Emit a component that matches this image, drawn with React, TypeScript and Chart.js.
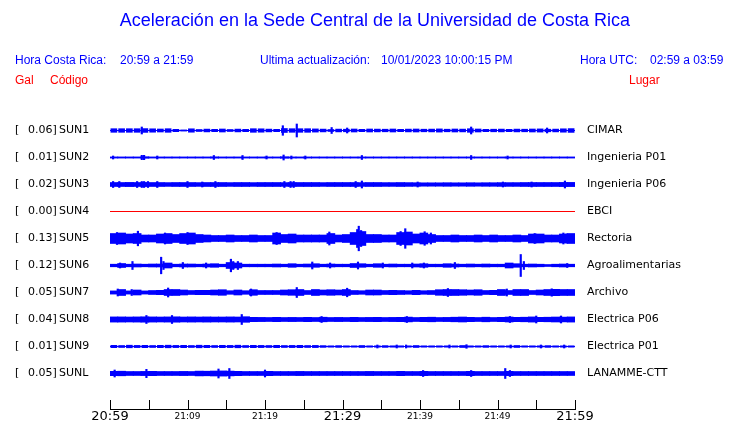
import React, { useEffect, useRef } from "react";
import { Chart, registerables } from "chart.js";
Chart.register(...registerables);

const TITLE = "Aceleración en la Sede Central de la Universidad de Costa Rica";
const HORA_CR = "20:59 a 21:59";
const ACTUALIZACION = "10/01/2023 10:00:15 PM";
const HORA_UTC = "02:59 a 03:59";

const CODES = ["SUN1", "SUN2", "SUN3", "SUN4", "SUN5", "SUN6", "SUN7", "SUN8", "SUN9", "SUNL"];
const GAL = [0.06, 0.01, 0.02, 0.0, 0.13, 0.12, 0.05, 0.04, 0.01, 0.05];
const PLACES = ["CIMAR", "Ingenieria P01", "Ingenieria P06", "EBCI", "Rectoria", "Agroalimentarias", "Archivo", "Electrica P06", "Electrica P01", "LANAMME-CTT"];

// tick labels every 5 minutes (minutes after 20:59)
const TIME_LABELS = ["20:59", "", "21:09", "", "21:19", "", "21:29", "", "21:39", "", "21:49", "", "21:59"];
const MAJOR_LABELS = ["20:59", "21:29", "21:59"];

// per-minute envelope (half amplitude) of each trace
const ENV_SUN1 = [1.8,1.8,1.8,1.8,1.9,1.7,1.5,1.8,1.2,0.6,1.7,1.0,1.4,1.2,1.5,1.0,1.4,1.2,1.8,1.7,1.4,1.2,2.0,1.8,1.8,1.8,1.6,1.4,1.0,1.4,1.3,1.5,1.2,1.5,1.4,1.3,1.5,1.2,1.4,1.5,1.3,1.4,1.6,1.3,1.5,1.4,1.8,1.5,1.2,1.3,1.4,1.2,1.4,1.3,1.5,1.6,1.3,1.4,1.7,1.9];
const ENV_SUN2 = [0.6,0.6,0.6,0.6,0.8,0.6,0.6,0.6,0.6,0.6,0.6,0.6,0.6,0.7,0.6,0.6,0.6,0.6,0.6,0.6,0.6,0.6,0.8,0.6,0.6,0.6,0.6,0.6,0.6,0.6,0.6,0.6,0.6,0.6,0.6,0.6,0.6,0.6,0.6,0.6,0.6,0.6,0.6,0.6,0.6,0.6,0.6,0.6,0.6,0.6,0.6,0.6,0.6,0.6,0.6,0.6,0.6,0.6,0.6,0.6];
const ENV_SUN3 = [2.0,2.0,2.1,2.0,2.1,2.0,2.0,1.9,2.0,2.0,2.0,1.9,2.0,2.0,2.0,1.9,2.0,2.0,1.9,2.0,2.0,2.0,1.9,2.0,2.0,2.0,2.0,1.9,2.0,2.0,2.0,2.0,1.9,2.0,2.0,1.9,1.9,2.0,1.9,1.8,1.7,1.7,1.7,1.8,1.7,1.7,1.8,1.7,1.8,1.8,1.9,1.9,1.9,2.0,2.0,2.0,2.0,2.0,2.1,2.1];
const ENV_SUN4: number[] = [];
const ENV_SUN5 = [5,5.5,4.5,5,3.5,3.5,4.5,5,4,5,5.5,4,3.5,3,3,3.5,3,3,3.5,3,3,5.5,4,4.5,3.5,3.5,3.5,3.5,5,3.5,4,6,7,4,4,3.5,3.5,6,6.5,4.5,5.5,4,3,3,3.5,3,3,3.5,3,3.5,3,3,3.5,3,4.5,4.5,3.5,3.5,4.5,5];
const ENV_SUN6 = [1.3,2.0,1.3,1.5,1.3,1.5,1.5,2.5,1.3,1.5,1.5,1.3,1.5,1.8,1.3,3.0,2.5,1.3,1.3,1.3,1.3,1.5,1.3,1.8,1.3,1.5,1.8,1.3,1.5,1.3,1.3,2.0,1.8,1.3,1.8,1.3,1.5,1.3,1.3,1.5,1.8,1.3,1.3,1.8,1.5,1.3,1.5,1.3,1.5,1.3,1.3,2.5,1.8,1.3,1.5,1.3,1.0,1.3,1.5,1.3];
const ENV_SUN7 = [1.6,3,1.6,2.5,1.6,2,2.2,3,3,2.5,2,2.2,2.2,2.5,2.8,1.8,2.5,1.8,2.8,2,2,2,2.5,2.8,3,2,3,2.5,2.8,2.5,3,2,1.8,2.5,2.5,2,2.2,2,1.8,2.2,1.8,2,2.8,3,3,2.8,2.5,2.8,2,2.2,3,2,3,3,2,2.5,3,3.2,3,3];
const ENV_SUN8 = [2.6,2.6,2.5,2.6,2.7,2.6,2.5,2.6,2.7,2.5,2.6,2.5,2.6,2.5,2.5,2.6,2.5,2.8,2.2,2.1,2.0,2.2,2.0,2.1,2.0,2.2,2.0,2.3,2.0,2.1,2.0,2.2,2.0,2.1,2.2,2.0,2.1,2.2,2.4,2.0,2.2,2.3,2.0,2.1,2.3,2.5,2.2,2.0,2.3,2.0,2.2,2.5,2.2,2.3,2.6,2.2,2.3,2.5,2.4,2.6];
const ENV_SUN9 = [1.2,1.0,1.3,1.1,1.2,1.0,1.2,1.3,1.1,1.2,1.0,1.3,1.2,1.0,1.2,1.1,1.3,1.0,1.2,1.1,1.0,1.2,1.0,1.1,1.2,1.0,1.1,0.9,0.7,0.9,0.7,0.7,1.0,0.7,0.7,0.9,0.7,0.7,0.7,1.0,0.7,0.7,0.7,0.7,0.7,1.0,0.7,0.7,0.9,0.7,0.7,0.7,1.0,0.7,0.7,0.7,0.9,0.7,0.7,0.7];
const ENV_SUNL = [2.2,2.3,2.0,2.0,2.1,2.2,2.0,2.0,2.0,2.1,2.0,2.4,2.3,2.5,2.6,2.4,2.2,2.0,2.0,2.0,2.2,2.0,2.0,2.0,2.1,2.0,2.0,2.0,2.0,2.0,2.0,2.0,2.0,2.1,2.0,2.0,2.0,2.2,2.0,2.0,2.2,2.0,2.0,2.0,2.0,2.0,2.2,2.0,2.0,2.0,2.0,2.2,2.0,2.0,2.0,2.0,2.0,2.0,2.0,2.0];

// isolated peaks: [minute, half amplitude]
const SPK_SUN1 = [[4.1,3.5],[22.3,4.8],[24.1,6.5],[28.6,3],[30.6,2.5],[46.6,3.5],[56.4,2.5]];
const SPK_SUN2 = [[0.4,1.5],[4.1,2.2],[4.4,2.2],[6.1,1.5],[13.4,2],[17.1,2],[20.2,1.5],[22.4,2.5],[23.4,1.5],[25.2,1.5],[32.5,2],[46.6,2],[51.3,1.5]];
const SPK_SUN3 = [[0.4,3],[1.2,3],[3.5,3],[4.1,3],[4.4,3],[4.9,3],[6.1,3],[10,3],[11.9,2.5],[13.6,3],[22.5,3],[23.3,3],[23.7,3],[31.7,3],[32.5,3.5],[39.7,2.5],[50.7,2.5],[54.4,2.5],[58.7,3.5]];
const SPK_SUN4: number[][] = [];
const SPK_SUN5 = [[0.9,6],[3.6,7.3],[7.1,5.5],[10,6],[21.5,6],[28.3,6.5],[31.9,9],[32.1,12.3],[32.4,8],[37.5,7],[38.1,9.8],[40.6,6.8],[41.4,5.5],[54.8,5],[58.5,5.5],[58.9,4.5]];
const SPK_SUN6 = [[1.3,2.5],[2.9,4],[6.6,8.3],[6.9,4],[9.4,3],[12.4,2.5],[15.6,6.3],[15.9,4],[16.5,4],[26.1,3.5],[28.4,2.5],[32.0,3.5],[35.2,2.5],[39,2.5],[40.5,2.5],[44.5,3],[53,11],[53.4,4],[59,2]];
const SPK_SUN7 = [[1.0,3.5],[2.8,3],[7.5,4.5],[18.2,3.5],[24.1,5],[30.6,4.3],[43.6,4],[51.2,3.5],[57,3.7]];
const SPK_SUN8 = [[4.7,4],[8,4],[17,5],[27.3,3],[38.3,3],[51.6,3],[55,3.5],[58.2,3.5]];
const SPK_SUN9 = [[34.5,1.5],[37,1.5],[38.2,1.5],[43.8,1.5],[46,1.8],[51.7,1.5],[55.6,1.5],[58.6,1.5]];
const SPK_SUNL = [[0.6,3.5],[4.7,4.2],[14,4.5],[15.4,5],[20,3.5],[40.4,3],[46.6,3],[51,5],[51.6,3]];

const ENVELOPES = [ENV_SUN1, ENV_SUN2, ENV_SUN3, ENV_SUN4, ENV_SUN5, ENV_SUN6, ENV_SUN7, ENV_SUN8, ENV_SUN9, ENV_SUNL];
const SPIKES = [SPK_SUN1, SPK_SUN2, SPK_SUN3, SPK_SUN4, SPK_SUN5, SPK_SUN6, SPK_SUN7, SPK_SUN8, SPK_SUN9, SPK_SUNL];

const ROW_GAP = 27;
const BLUE = "#0000ff";
const RED = "#ff0000";
const LABEL_FONT = '11px "DejaVu Sans"';

const overlayPlugin = {
  id: "overlay",
  afterDraw(chart: any) {
    const { ctx, chartArea } = chart;
    const x = chart.scales.x;
    const y = chart.scales.y;
    ctx.save();
    ctx.strokeStyle = "#000";
    ctx.lineWidth = 1;
    x.ticks.forEach((t: any) => {
      const px = Math.round(x.getPixelForValue(t.value)) + 0.5;
      ctx.beginPath();
      ctx.moveTo(px, chartArea.bottom);
      ctx.lineTo(px, chartArea.bottom - 9);
      ctx.stroke();
    });
    ctx.font = LABEL_FONT;
    ctx.fillStyle = "#000";
    ctx.textBaseline = "middle";
    ctx.textAlign = "left";
    CODES.forEach((code, i) => {
      const py = y.getPixelForValue(-ROW_GAP * i);
      ctx.fillText("[", 15, py);
      ctx.fillText(GAL[i].toFixed(2) + "]", 28, py);
      ctx.fillText(code, 59, py);
      ctx.fillText(PLACES[i], 587, py);
    });
    ctx.restore();
  },
};

function buildDatasets() {
  const ds: any[] = [];
  CODES.forEach((code, i) => {
    const base = -ROW_GAP * i;
    const color = GAL[i] === 0 ? RED : BLUE;
    ds.push({
      type: "line",
      label: code + " base",
      data: [{ x: 0, y: base }, { x: 60, y: base }],
      borderColor: color,
      borderWidth: 1,
      pointRadius: 0,
      fill: false,
    });
    const dashed = code === "SUN1" || code === "SUN9";
    ds.push({
      type: "bar",
      label: code + " env",
      data: ENVELOPES[i].map((a, m) => ({ x: m + 0.5, y: [base - a, base + a] })),
      backgroundColor: color,
      borderWidth: 0,
      barThickness: dashed ? 6 : 8,
      grouped: false,
    });
    ds.push({
      type: "bar",
      label: code + " spk",
      data: SPIKES[i].map(([m, a]) => ({ x: m, y: [base - a, base + a] })),
      backgroundColor: color,
      borderWidth: 0,
      barThickness: 1.5,
      grouped: false,
    });
  });
  return ds;
}

function SeismoChart() {
  const ref = useRef<HTMLCanvasElement>(null);
  useEffect(() => {
    if (!ref.current) return;
    const chart = new Chart(ref.current, {
      type: "bar",
      data: { datasets: buildDatasets() },
      options: {
        animation: false,
        responsive: false,
        devicePixelRatio: 1,
        layout: { padding: { left: 110, right: 165, top: 116, bottom: 0 } },
        plugins: { legend: { display: false }, tooltip: { enabled: false }, title: { display: false } },
        scales: {
          x: {
            type: "linear",
            min: 0,
            max: 60,
            offset: false,
            afterFit: (s: any) => { s.height = 14; },
            grid: { display: false, drawTicks: false },
            border: { display: true, color: "#000", width: 1 },
            ticks: {
              stepSize: 5,
              autoSkip: false,
              maxRotation: 0,
              padding: 0,
              color: "#000",
              callback: (v: any) => TIME_LABELS[Math.round(Number(v) / 5)] ?? "",
              font: (c: any) => {
                const lbl = c.tick ? TIME_LABELS[Math.round(c.tick.value / 5)] : "";
                return MAJOR_LABELS.includes(lbl)
                  ? { family: "DejaVu Sans", size: 13, lineHeight: "15px" }
                  : { family: "DejaVu Sans", size: 9, lineHeight: "15px" };
              },
            },
          },
          y: {
            type: "linear",
            display: false,
            min: -(9 * ROW_GAP) - 35.5,
            max: 14.5,
          },
        },
      } as any,
      plugins: [overlayPlugin],
    });
    return () => chart.destroy();
  }, []);
  return <canvas ref={ref} width={740} height={423} style={{ position: "absolute", left: 0, top: 0 }} />;
}

const hdr: React.CSSProperties = { position: "absolute", fontFamily: '"Liberation Sans", Arial, sans-serif', fontSize: 12, lineHeight: "14px", whiteSpace: "pre", color: BLUE };

export default function App() {
  return (
    <div style={{ position: "absolute", left: 0, top: 0, width: 740, height: 423, background: "#fff", overflow: "hidden" }}>
      <SeismoChart />
      <div style={{ ...hdr, left: 0, width: 750, textAlign: "center", top: 10, fontSize: 18, lineHeight: "20px" }}>{TITLE}</div>
      <div style={{ ...hdr, left: 15, top: 53 }}>Hora Costa Rica:</div>
      <div style={{ ...hdr, left: 120, top: 53 }}>{HORA_CR}</div>
      <div style={{ ...hdr, left: 260, top: 53 }}>Ultima actualización:</div>
      <div style={{ ...hdr, left: 381, top: 53 }}>{ACTUALIZACION}</div>
      <div style={{ ...hdr, left: 580, top: 53 }}>Hora UTC:</div>
      <div style={{ ...hdr, left: 650, top: 53 }}>{HORA_UTC}</div>
      <div style={{ ...hdr, left: 15, top: 73, color: RED }}>Gal</div>
      <div style={{ ...hdr, left: 50, top: 73, color: RED }}>Código</div>
      <div style={{ ...hdr, left: 629, top: 73, color: RED }}>Lugar</div>
    </div>
  );
}
